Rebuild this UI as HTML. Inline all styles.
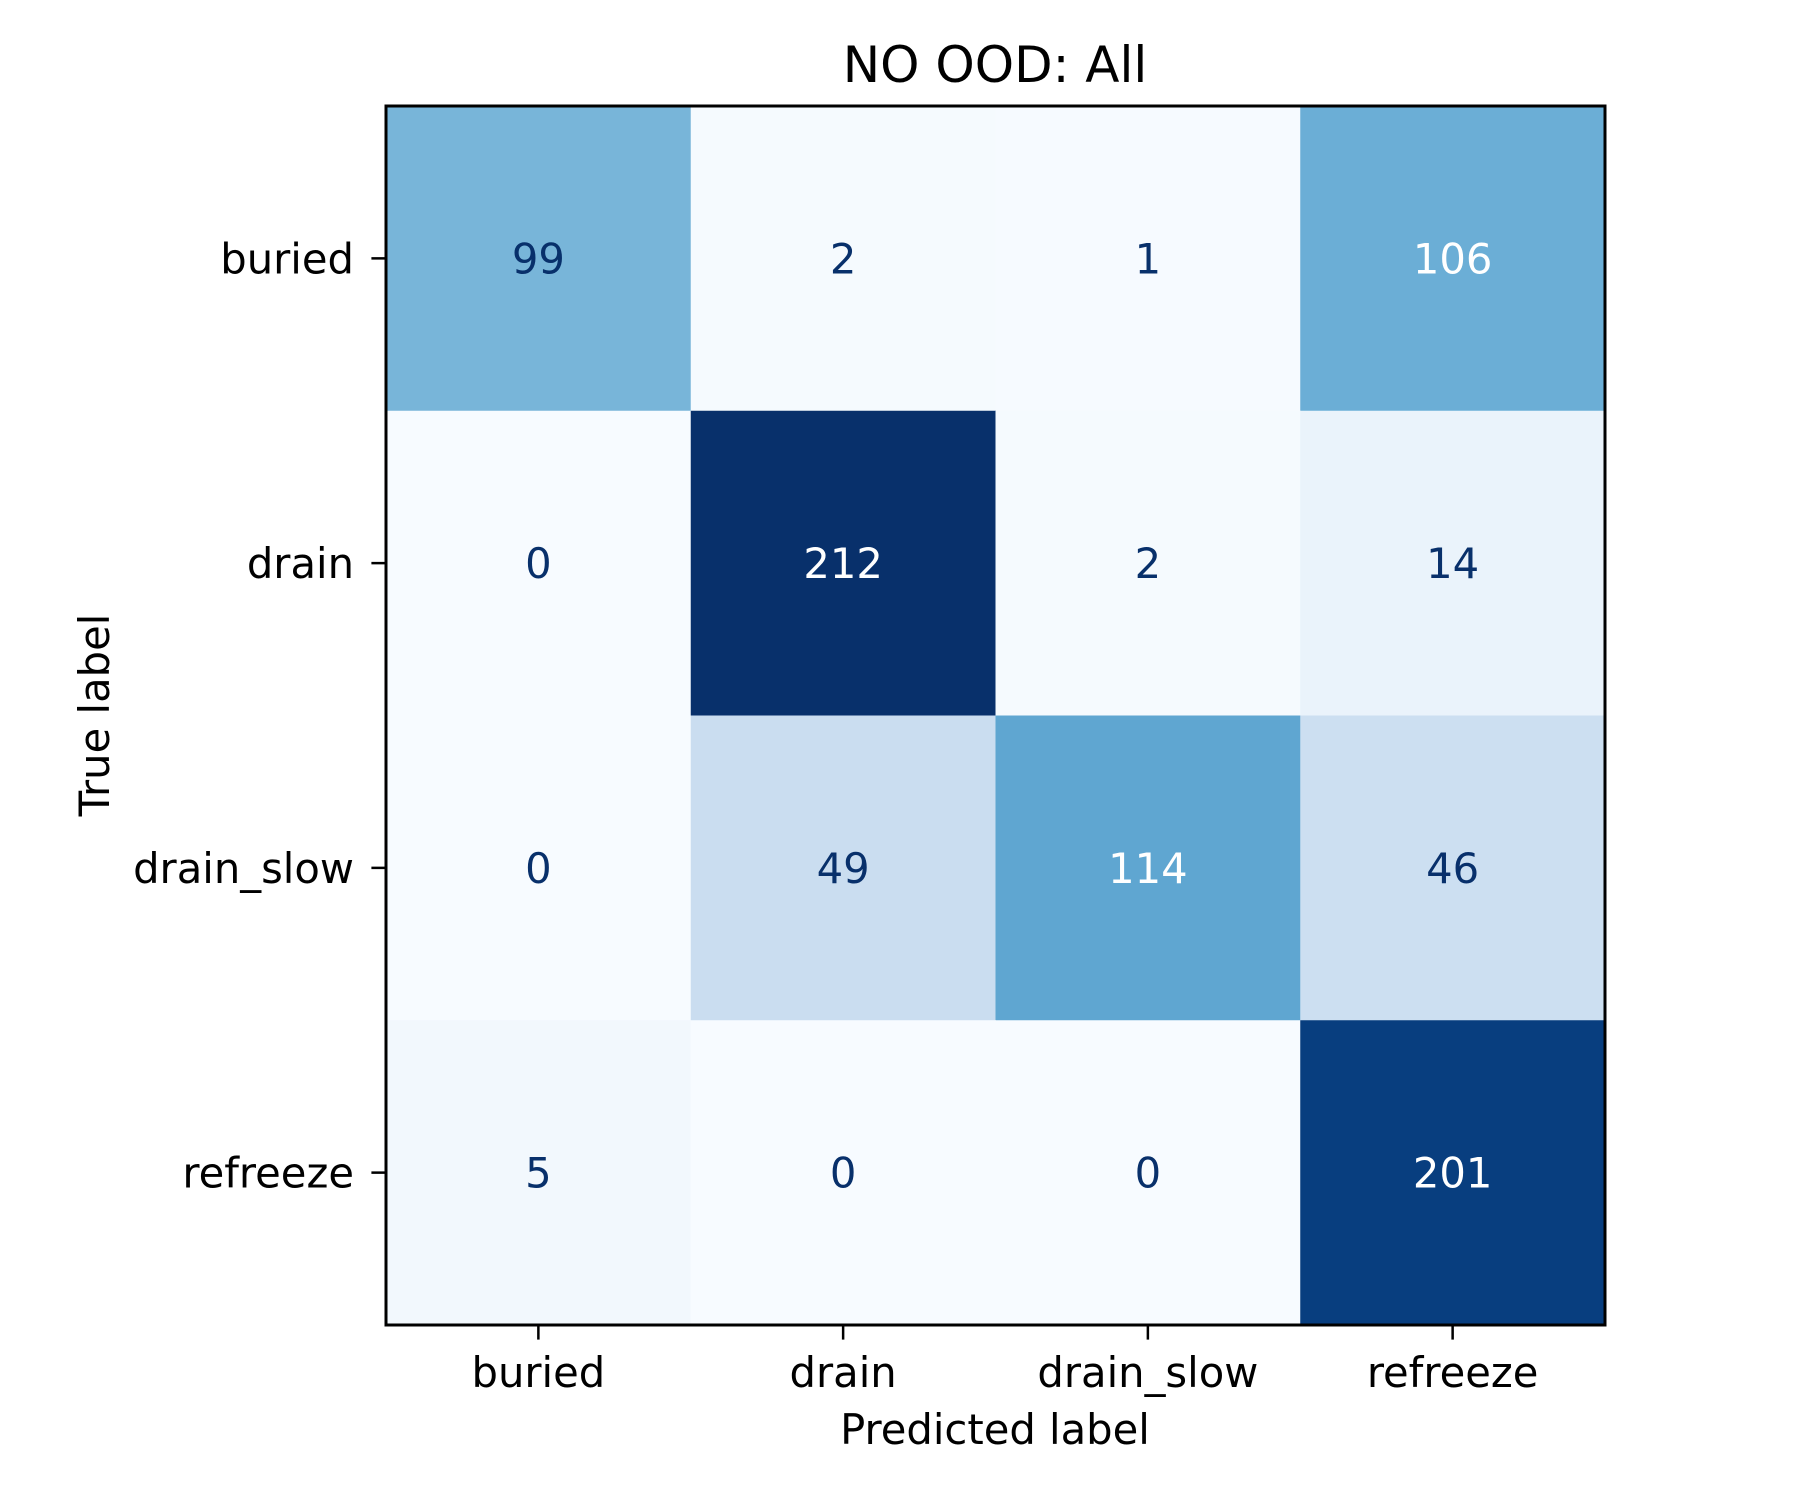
<!DOCTYPE html>
<html><head><meta charset="utf-8"><style>body{margin:0;background:#fff}svg{display:block}text{font-family:"DejaVu Sans","Liberation Sans",sans-serif}</style></head>
<body>
<svg id="chart" width="1800" height="1500" viewBox="0 0 1800 1500">
<text x="995" y="82" font-size="50" text-anchor="middle">NO OOD: All</text>
<text x="995" y="1444" font-size="41.7" text-anchor="middle">Predicted label</text>
<text transform="translate(109,715) rotate(-90)" font-size="41.7" text-anchor="middle">True label</text>
<g id="cells"></g>
<g id="ticks"></g>
<rect x="386" y="106" width="1219" height="1219" fill="none" stroke="#000" stroke-width="3"/>
</svg>
<script>
const labels = ["buried","drain","drain_slow","refreeze"];
const row0 = [99,2,1,106];
const row1 = [0,212,2,14];
const row2 = [0,49,114,46];
const row3 = [5,0,0,201];
const matrix = [row0,row1,row2,row3];

const L=386,T=106,S=1219,n=labels.length,cw=S/n;
const xPos=i=>L+cw*(i+0.5), yPos=i=>T+cw*(i+0.5);
const stops=["#f7fbff","#deebf7","#c6dbef","#9ecae1","#6baed6","#4292c6","#2171b5","#08519c","#08306b"];
function hex(h){return [1,3,5].map(k=>parseInt(h.substr(k,2),16));}
function blues(t){t=Math.max(0,Math.min(1,t));const p=t*8,i=Math.min(7,Math.floor(p)),f=p-i;const a=hex(stops[i]),b=hex(stops[i+1]);return "rgb("+a.map((v,k)=>Math.round(v+(b[k]-v)*f)).join(",")+")";}
const all=matrix.flat(),mn=Math.min(...all),mx=Math.max(...all),th=(mn+mx)/2;
const NS="http://www.w3.org/2000/svg";
const cg=document.getElementById("cells"),tg=document.getElementById("ticks");
function mk(tag,attrs,parent){const e=document.createElementNS(NS,tag);for(const k in attrs)e.setAttribute(k,attrs[k]);parent.appendChild(e);return e;}
matrix.forEach((row,r)=>row.forEach((v,c)=>{
  const rc=mk("rect",{x:L+c*cw,y:T+r*cw,width:cw+0.5,height:cw+0.5,fill:blues((v-mn)/(mx-mn))},cg);
  
  
  const t=mk("text",{x:xPos(c),y:yPos(r)+15,"font-size":"41.7","text-anchor":"middle",fill:v<th?"#08306b":"#ffffff"},cg);
  t.textContent=v;
  
  
}));
labels.forEach((lb,i)=>{
  mk("line",{x1:xPos(i),x2:xPos(i),y1:T+S,y2:T+S+14.6,stroke:"#000","stroke-width":2.5},tg);
  const xt=mk("text",{x:xPos(i),y:1387,"font-size":"41.7","text-anchor":"middle"},tg);
  xt.textContent=lb;
  
  
  mk("line",{x1:L-14.6,x2:L,y1:yPos(i),y2:yPos(i),stroke:"#000","stroke-width":2.5},tg);
  const yt=mk("text",{x:354,y:yPos(i)+15,"font-size":"41.7","text-anchor":"end"},tg);
  yt.textContent=lb;
  
  
});
</script>
</body></html>
